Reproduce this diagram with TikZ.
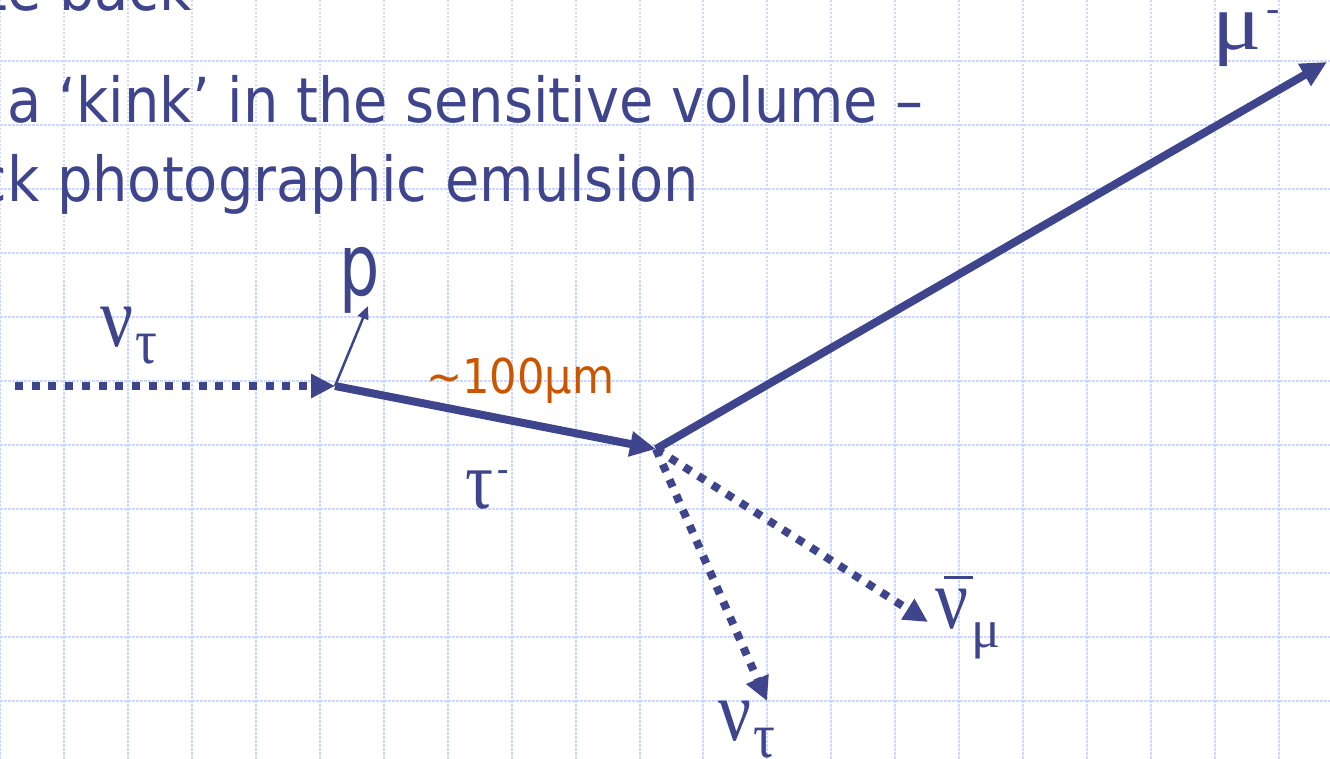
\documentclass[tikz,border=0pt]{standalone}
\usepackage{fontspec}
\setmainfont[FakeStretch=0.9]{DejaVu Sans}
\newfontfamily\grk[FakeStretch=0.85]{Liberation Serif}
\newfontfamily\grkw{Liberation Serif}
\usetikzlibrary{arrows.meta}
\definecolor{ink}{RGB}{63,69,140}
\definecolor{orng}{RGB}{204,85,0}
\definecolor{gridc}{RGB}{204,217,252}
\begin{document}
\begin{tikzpicture}[x=1pt,y=-1pt,
 gridline/.style={gridc,line width=2pt,dash pattern=on 2.5pt off 1.5pt},
 txt/.style={inner sep=0pt,outer sep=0pt,text=ink},
 body/.style={txt,font=\fontsize{62}{62}\selectfont},
 track/.style={ink,line width=8pt,-{Triangle[length=26pt,width=24pt]}},
 neutrino/.style={ink,line width=8pt,dash pattern=on 8pt off 8.7pt,-{Triangle[length=24pt,width=23pt]}},
 proton/.style={ink,line width=2.5pt,-{Triangle[length=13pt,width=11pt]}},
]
\useasboundingbox (0,0) rectangle (1330,759);
\clip (0,0) rectangle (1330,759);
\fill[white] (0,0) rectangle (1330,759);
\foreach \i in {0,...,20} \draw[gridline] (\i*63.95,0) -- (\i*63.95,759);
\foreach \j in {0,...,10} \draw[gridline] (0,61.5+\j*63.95) -- (1330,61.5+\j*63.95);

% text lines
\node[body,anchor=base east] (l1) at (192,11) {te back};
\node[body,anchor=base west] (l2) at (7,123) {a ‘kink’ in the sensitive volume –};
\node[body,anchor=base east] (l3) at (699,202) {ck photographic emulsion};

% vertices and ends
\coordinate (nuin) at (15,386);
\coordinate (v1) at (335,386);
\coordinate (ptip) at (368,306);
\coordinate (v2) at (656,449);
\coordinate (mutip) at (1327,62);
\coordinate (nttip) at (767,701);
\coordinate (nmtip) at (928,622);

\draw[neutrino] (nuin) -- (v1);
\draw[proton] (v1) -- (ptip);
\draw[track] (v1) -- (v2);
\draw[track] (v2) -- (mutip);
\draw[neutrino] (v2) -- (nttip);
\draw[neutrino] (v2) -- (nmtip);

% labels
\node[txt,anchor=base west] (nuinL) at (100,346) {\grk\fontsize{86}{86}\selectfont ν\hspace{2pt}\raisebox{-17pt}{\fontsize{64}{64}\selectfont τ}};
\node[txt,anchor=base west,font=\fontsize{86}{86}\selectfont] (pL) at (339,295) {\scalebox{0.82}[1]{p}};
\node[txt,anchor=base west,text=orng,font=\fontsize{48}{48}\selectfont] (lenL) at (426,393) {\char"223C 100μm};
\node[txt,anchor=base west] (tauL) at (465,508) {\grk\fontsize{82}{82}\selectfont τ\hspace{4pt}\raisebox{27pt}{\fontsize{40}{40}\selectfont -}};
\node[txt,anchor=base west] (muL) at (1212,50) {\grkw\fontsize{80}{80}\selectfont \scalebox{1.15}[1]{μ}\hspace{5pt}\raisebox{28pt}{\fontsize{40}{40}\selectfont -}};
\node[txt,anchor=base west] (ntL) at (718,740) {\grk\fontsize{86}{86}\selectfont ν\hspace{2pt}\raisebox{-17pt}{\fontsize{64}{64}\selectfont τ}};
\node[txt,anchor=base west] (nmL) at (935,628) {\grk\fontsize{86}{86}\selectfont \rlap{\hspace{9pt}\raisebox{49pt}{\color{ink}\rule{29pt}{3pt}}}ν\hspace{3pt}\raisebox{-19pt}{\grkw\fontsize{54}{54}\selectfont μ}};
\end{tikzpicture}
\end{document}
